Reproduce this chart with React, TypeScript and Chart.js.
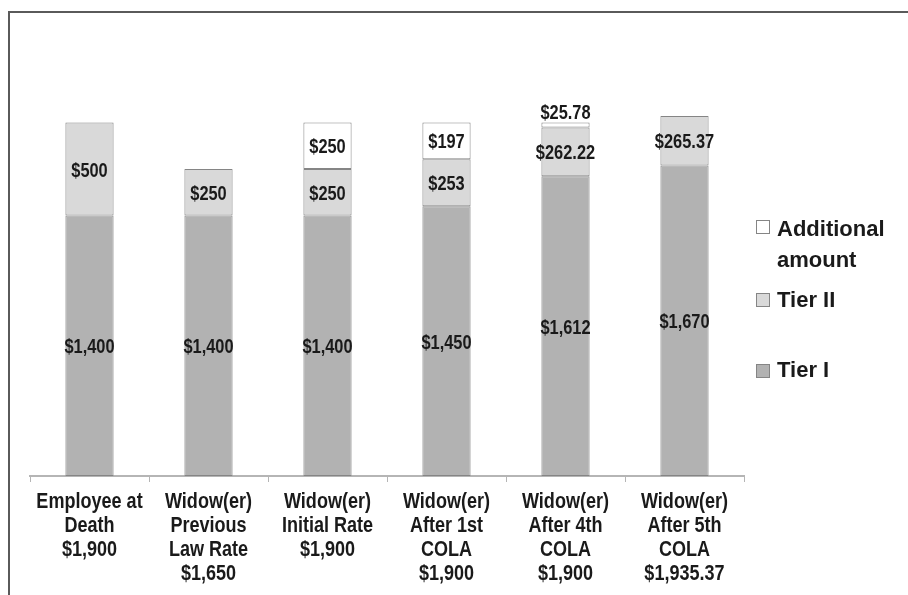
import React, { useEffect, useRef } from "react";
import { Chart, registerables } from "chart.js";
Chart.register(...registerables);

const categories: string[][] = [
  ["Employee at", "Death", "$1,900"],
  ["Widow(er)", "Previous", "Law Rate", "$1,650"],
  ["Widow(er)", "Initial Rate", "$1,900"],
  ["Widow(er)", "After 1st", "COLA", "$1,900"],
  ["Widow(er)", "After 4th", "COLA", "$1,900"],
  ["Widow(er)", "After 5th", "COLA", "$1,935.37"],
];
const tierI = [1400, 1400, 1400, 1450, 1612, 1670];
const tierII = [500, 250, 250, 253, 262.22, 265.37];
const additional: (number | null)[] = [null, null, 250, 197, 25.78, null];
const seriesNames = ["Tier I", "Tier II", "Additional amount"];
const legendLines = [["Additional", "amount"], ["Tier II"], ["Tier I"]];
const yMax = 2500;

const ARIAL = '"Liberation Sans", Arial, sans-serif';
const colors = ["#b2b2b2", "#d9d9d9", "#ffffff"];
const BORDER = "#858585";
const TEXT = "#1a1a1a";
const NARROW_SCALE = 0.82;

function fmt(v: number) {
  if (Number.isInteger(v)) return "$" + v.toLocaleString("en-US");
  return "$" + v.toFixed(2);
}

function narrowText(ctx: CanvasRenderingContext2D, text: string, x: number, y: number) {
  ctx.save();
  ctx.translate(x, y);
  ctx.scale(NARROW_SCALE, 1);
  ctx.fillText(text, 0, 0);
  ctx.restore();
}

const decorPlugin = {
  id: "decor",
  beforeDraw(chart: any) {
    const ctx = chart.ctx;
    ctx.save();
    ctx.fillStyle = "#ffffff";
    ctx.fillRect(0, 0, chart.width, chart.height);
    ctx.strokeStyle = "#5a5a5a";
    ctx.lineWidth = 2;
    ctx.beginPath();
    ctx.moveTo(9, chart.height);
    ctx.lineTo(9, 12);
    ctx.lineTo(chart.width, 12);
    ctx.stroke();
    ctx.restore();
  },
  afterDatasetsDraw(chart: any) {
    const ctx = chart.ctx;
    ctx.save();
    ctx.fillStyle = TEXT;
    ctx.textAlign = "center";
    ctx.textBaseline = "alphabetic";
    // data labels
    ctx.font = `bold 20px ${ARIAL}`;
    chart.data.datasets.forEach((ds: any, di: number) => {
      const meta = chart.getDatasetMeta(di);
      meta.data.forEach((el: any, i: number) => {
        const v = ds.data[i];
        if (v == null) return;
        const top = Math.min(el.y, el.base);
        const bot = Math.max(el.y, el.base);
        let y = (top + bot) / 2;
        if (bot - top < 16) y = top - 11;
        narrowText(ctx, fmt(v), el.x, y + 7.5);
      });
    });
    // category labels
    const xs = chart.scales.x;
    ctx.font = `bold 22px ${ARIAL}`;
    categories.forEach((lines, i) => {
      const x = xs.getPixelForValue(i);
      lines.forEach((line, j) => {
        narrowText(ctx, line, x, 508 + j * 24);
      });
    });
    // legend
    const order = [2, 1, 0];
    const sqY = [220, 293, 364];
    const baseY = [[236, 267], [307], [377]];
    ctx.font = `bold 22px ${ARIAL}`;
    ctx.textAlign = "left";
    order.forEach((di, k) => {
      ctx.fillStyle = colors[di];
      ctx.fillRect(756.5, sqY[k] + 0.5, 13, 13);
      ctx.strokeStyle = BORDER;
      ctx.lineWidth = 1;
      ctx.strokeRect(756.5, sqY[k] + 0.5, 13, 13);
      ctx.fillStyle = TEXT;
      legendLines[k].forEach((line, j) => {
        ctx.fillText(line, 777, baseY[k][j]);
      });
    });
    ctx.restore();
  },
};

export default function App() {
  const ref = useRef<HTMLCanvasElement | null>(null);
  useEffect(() => {
    document.body.style.margin = "0";
    const data = [tierI, tierII, additional];
    const chart = new Chart(ref.current!, {
      type: "bar",
      data: {
        labels: categories.map((c) => c.join(" ")),
        datasets: data.map((d, i) => ({
          label: seriesNames[i],
          data: d as any,
          backgroundColor: colors[i],
          borderColor: BORDER,
          borderWidth: 1,
          borderSkipped: false,
          barPercentage: 0.405,
          categoryPercentage: 1,
        })),
      },
      options: {
        responsive: false,
        animation: false,
        layout: { padding: { left: 30, right: 164, top: 11, bottom: 0 } },
        plugins: { legend: { display: false }, tooltip: { enabled: false } },
        scales: {
          x: {
            stacked: true,
            afterFit: (s: any) => {
              s.height = 119;
            },
            border: { display: true, color: "#b5b5b5", width: 2 },
            grid: {
              display: true,
              offset: true,
              drawOnChartArea: false,
              drawTicks: true,
              tickLength: 6,
              color: "#b5b5b5",
              lineWidth: 1,
            },
            ticks: { display: false },
          },
          y: {
            stacked: true,
            display: false,
            min: 0,
            max: yMax,
          },
        },
      },
      plugins: [decorPlugin],
    });
    return () => chart.destroy();
  }, []);
  return (
    <div style={{ position: "absolute", left: 0, top: 0, width: 908, height: 595 }}>
      <canvas ref={ref} width={908} height={595} />
    </div>
  );
}
